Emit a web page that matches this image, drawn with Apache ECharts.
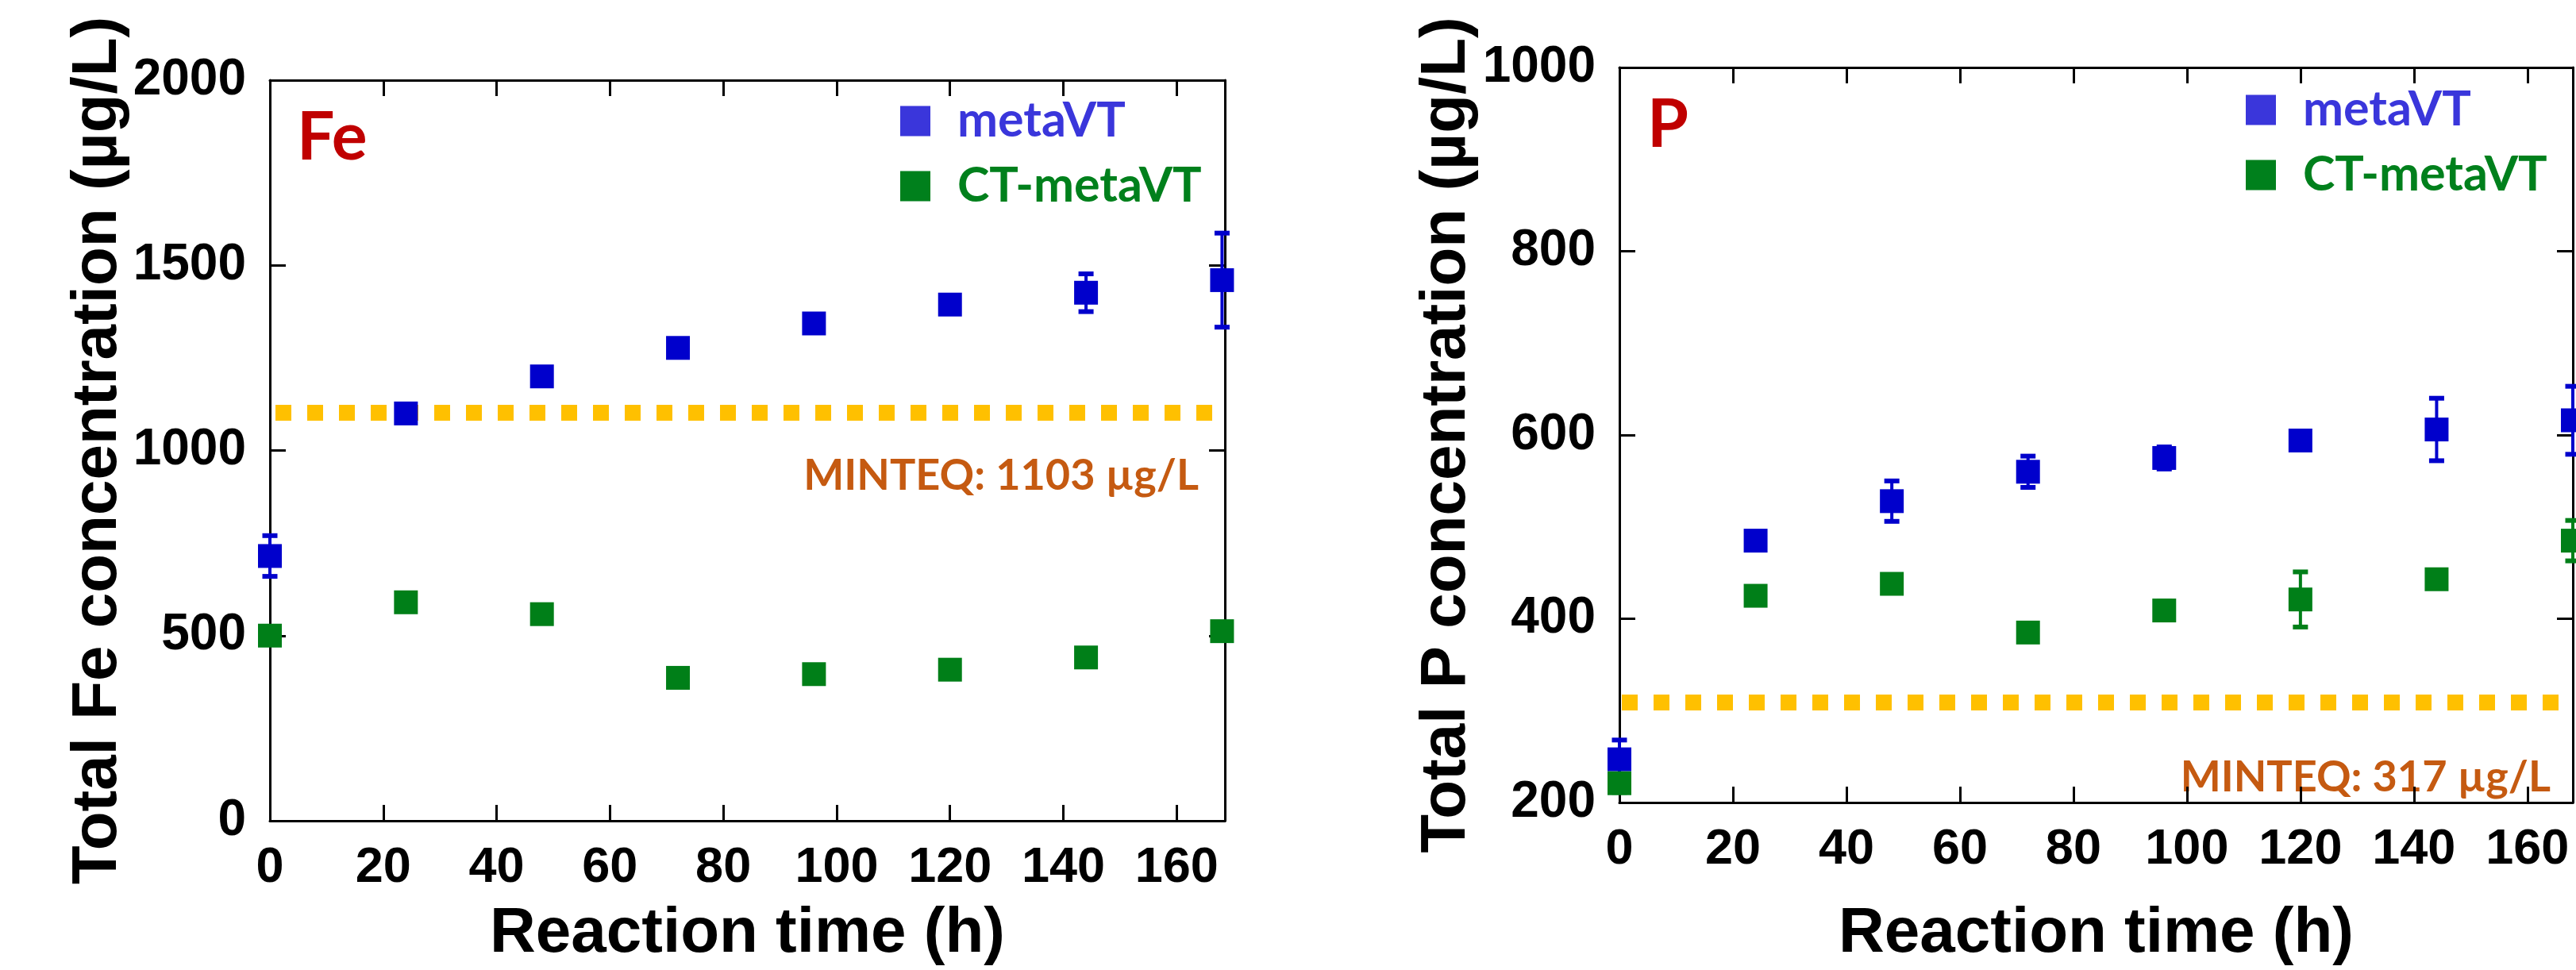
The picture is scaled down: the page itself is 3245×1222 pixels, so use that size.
<!DOCTYPE html>
<html>
<head>
<meta charset="utf-8">
<script src="https://cdn.jsdelivr.net/npm/echarts@6/dist/echarts.min.js"></script>
<style>
  html, body { margin: 0; padding: 0; background: #fff; }
  #main { width: 3245px; height: 1222px; }
</style>
</head>
<body>
<div id="main"></div>
<script>
// reaction time (h), shared by both panels
const hours = [0, 24, 48, 72, 96, 120, 144, 168];

// Fe panel, µg/L
const feMeta = [715, 1100, 1200, 1277, 1343, 1394, 1426, 1460];
const feMetaErr = [55, 12, 14, 12, 22, 14, 51, 127];
const feCT = [500, 590, 558, 386, 396, 408, 441, 512];
const feCTErr = [10, 14, 14, 14, 12, 14, 10, 14];
const feMinteq = 1103;

// P panel, µg/L
const pMeta = [247, 485, 528, 560, 575, 594, 606, 616];
const pMetaErr = [21, 8, 22, 17, 12, 8, 34, 37];
const pCT = [221, 425, 438, 385, 409, 421, 443, 485];
const pCTErr = [10, 8, 8, 8, 10, 30, 8, 22];
const pMinteqLine = 309;   // where the dotted line is drawn
const pMinteqLabel = 317;  // value printed in the label

const seriesNames = ['metaVT', 'CT-metaVT'];

const AXIS_FONT = "'Liberation Sans', Arial, sans-serif";
const NOTE_FONT = "Lato, 'Open Sans', sans-serif";
const BLUE = '#0000CC';
const GREEN = '#007F18';
const LEG_BLUE = '#3A36DB';
const LEG_GREEN = '#00801C';

const axisLine = { show: true, onZero: false, lineStyle: { color: '#000', width: 3 } };
const tickIn = { show: true, inside: true, length: 20, lineStyle: { color: '#000', width: 3 } };
// plain numbers, and no label for the odd max value at the right edge
const xLabel = (v) => (v % 20 === 0 ? String(v) : '');
const yLabel = (v) => String(v);

function xAxes(grid, max, gap) {
  return [
    {
      gridIndex: grid, type: 'value', min: 0, max: max, interval: 20, position: 'bottom',
      axisLine, axisTick: tickIn, splitLine: { show: false },
      axisLabel: { fontSize: 63, fontWeight: 'bold', fontFamily: AXIS_FONT, color: '#000', margin: 28, formatter: xLabel },
      name: 'Reaction time (h)', nameLocation: 'middle', nameGap: gap,
      nameTextStyle: { fontSize: 80, fontWeight: 'bold', fontFamily: AXIS_FONT, color: '#000' }
    },
    {
      gridIndex: grid, type: 'value', min: 0, max: max, interval: 20, position: 'top',
      axisLine, axisTick: tickIn, splitLine: { show: false }, axisLabel: { show: false }
    }
  ];
}

function yAxes(grid, min, max, step, name, gap) {
  return [
    {
      gridIndex: grid, type: 'value', min: min, max: max, interval: step, position: 'left',
      axisLine, axisTick: tickIn, splitLine: { show: false },
      axisLabel: { fontSize: 64, fontWeight: 'bold', fontFamily: AXIS_FONT, color: '#000', margin: 30, formatter: yLabel },
      name: name, nameLocation: 'middle', nameGap: gap, nameRotate: 90,
      nameTextStyle: { fontSize: 80, fontWeight: 'bold', fontFamily: AXIS_FONT, color: '#000' }
    },
    {
      gridIndex: grid, type: 'value', min: min, max: max, interval: step, position: 'right',
      axisLine, axisTick: tickIn, splitLine: { show: false }, axisLabel: { show: false }
    }
  ];
}

function points(name, xi, yi, vals, color, minteq, dashOffset) {
  const s = {
    type: 'scatter', name: name, xAxisIndex: xi, yAxisIndex: yi,
    symbol: 'rect', symbolSize: 30, clip: false, z: 4,
    itemStyle: { color: color, opacity: 1 },
    data: hours.map((h, i) => [h, vals[i]])
  };
  if (minteq != null) {
    s.markLine = {
      silent: true, symbol: 'none', z: 1, animation: false,
      label: { show: false },
      lineStyle: { color: '#FFC000', width: 20, type: [20, 20], dashOffset: dashOffset, cap: 'butt', opacity: 1 },
      data: [{ yAxis: minteq }]
    };
  }
  return s;
}

function errorBars(xi, yi, vals, errs, color) {
  return {
    type: 'custom', xAxisIndex: xi, yAxisIndex: yi, z: 3, clip: false,
    data: hours.map((h, i) => [h, vals[i] - errs[i], vals[i] + errs[i]]),
    renderItem(params, api) {
      const lo = api.coord([api.value(0), api.value(1)]);
      const hi = api.coord([api.value(0), api.value(2)]);
      const x = lo[0], cw = 19, ch = 6;
      return {
        type: 'group',
        children: [
          { type: 'line', shape: { x1: x, y1: lo[1], x2: x, y2: hi[1] }, style: { stroke: color, lineWidth: 4 } },
          { type: 'rect', shape: { x: x - cw / 2, y: hi[1] - ch / 2, width: cw, height: ch }, style: { fill: color } },
          { type: 'rect', shape: { x: x - cw / 2, y: lo[1] - ch / 2, width: cw, height: ch }, style: { fill: color } }
        ]
      };
    }
  };
}

function legendFor(left, top) {
  return {
    orient: 'vertical', left: left, top: top, padding: 0,
    icon: 'rect', itemWidth: 38, itemHeight: 38, itemGap: 21,
    selectedMode: false,
    textStyle: { fontSize: 61, fontWeight: 'bold', fontFamily: NOTE_FONT, padding: [0, 0, 0, 29] },
    data: [
      { name: seriesNames[0], itemStyle: { color: LEG_BLUE }, textStyle: { color: LEG_BLUE } },
      { name: seriesNames[1], itemStyle: { color: LEG_GREEN }, textStyle: { color: LEG_GREEN } }
    ]
  };
}

const chart = echarts.init(document.getElementById('main'));
chart.setOption({
  animation: false,
  backgroundColor: '#fff',
  grid: [
    { left: 340, top: 101, width: 1203, height: 958 },
    { left: 2040, top: 85, width: 1201, height: 964 }
  ],
  xAxis: [...xAxes(0, 168.5, 103), ...xAxes(1, 168, 126)],
  yAxis: [
    ...yAxes(0, 0, 2000, 500, 'Total Fe concentration (µg/L)', 167),
    ...yAxes(1, 200, 1000, 200, 'Total P concentration (µg/L)', 177)
  ],
  legend: [legendFor(1134, 122), legendFor(2829, 108)],
  series: [
    errorBars(0, 0, feMeta, feMetaErr, BLUE),
    errorBars(0, 0, feCT, feCTErr, GREEN),
    points(seriesNames[0], 0, 0, feMeta, BLUE, feMinteq, 33),
    points(seriesNames[1], 0, 0, feCT, GREEN),
    errorBars(2, 2, pMeta, pMetaErr, BLUE),
    errorBars(2, 2, pCT, pCTErr, GREEN),
    points(seriesNames[0], 2, 2, pMeta, BLUE, pMinteqLine, 37),
    points(seriesNames[1], 2, 2, pCT, GREEN)
  ],
  graphic: [
    { type: 'text', x: 374, y: 174, style: { text: 'Fe', font: 'bold 84px ' + NOTE_FONT, fill: '#C00000', textAlign: 'left', textVerticalAlign: 'middle' } },
    { type: 'text', x: 2075, y: 158, style: { text: 'P', font: 'bold 84px ' + NOTE_FONT, fill: '#C00000', textAlign: 'left', textVerticalAlign: 'middle' } },
    { type: 'text', x: 1510, y: 600, style: { text: 'MINTEQ: ' + feMinteq + ' µg/L', font: 'bold 54px ' + NOTE_FONT, fill: '#C55A11', textAlign: 'right', textVerticalAlign: 'middle' } },
    { type: 'text', x: 3213, y: 980, style: { text: 'MINTEQ: ' + pMinteqLabel + ' µg/L', font: 'bold 54px ' + NOTE_FONT, fill: '#C55A11', textAlign: 'right', textVerticalAlign: 'middle' } }
  ]
});
</script>
</body>
</html>
